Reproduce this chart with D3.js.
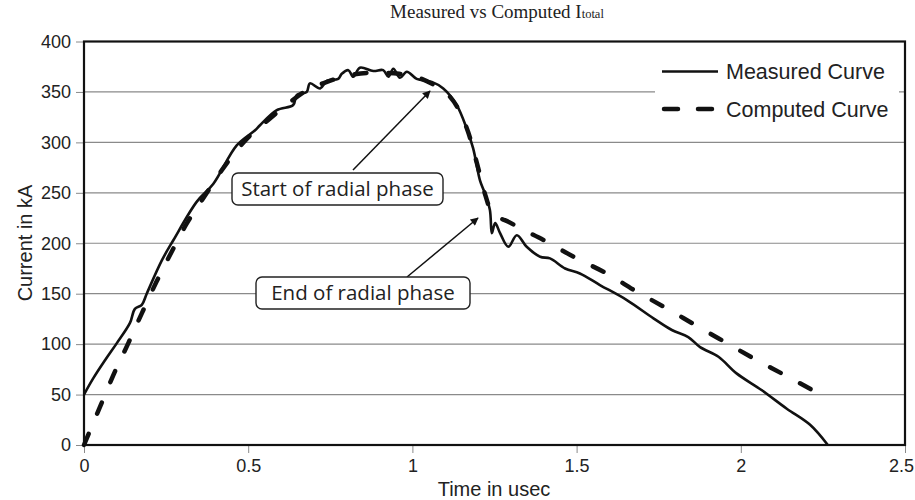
<!DOCTYPE html>
<html>
<head>
<meta charset="utf-8">
<script src="https://cdn.jsdelivr.net/npm/d3@7"></script>
<style>
  body { margin: 0; background: #fff; }
  svg { display: block; }
</style>
</head>
<body>
<div id="chart"></div>
<script>
// measured current (kA) vs time (usec)
var measuredT = [0, 0.028, 0.064, 0.100, 0.140, 0.155, 0.176, 0.191, 0.237, 0.272, 0.343, 0.394, 0.465, 0.521,
    0.536, 0.587, 0.637, 0.648, 0.678, 0.688, 0.719, 0.739, 0.774, 0.785, 0.805, 0.820, 0.840, 0.881, 0.911,
    0.927, 0.942, 0.962, 0.983, 1.013, 1.059, 1.094, 1.135, 1.165, 1.185, 1.206, 1.220, 1.236, 1.242, 1.252,
    1.267, 1.292, 1.318, 1.348, 1.389, 1.419, 1.465, 1.510, 1.571, 1.653, 1.734, 1.790, 1.840, 1.876, 1.932,
    1.987, 2.063, 2.140, 2.211, 2.265];
var measuredI = [50, 66, 84, 101, 121, 135, 139, 150, 183, 203, 241, 259, 297, 312,
    317, 332, 337, 347, 350, 358.5, 353.5, 361, 363, 368, 371.6, 365, 374, 370.7, 371.6,
    365, 373, 364, 370, 363, 360, 353.5, 337, 314, 294, 262, 250, 233, 210, 220,
    210, 196.5, 208, 196.5, 186.6, 185, 175, 170, 158.6, 143.7, 125.6, 114, 107, 97, 87.5,
    71, 54.5, 36, 20, 0];

// computed current
var computedT = [0, 0.049, 0.089, 0.135, 0.176, 0.221, 0.267, 0.313, 0.363, 0.434, 0.500, 0.560, 0.620,
    0.680, 0.740, 0.800, 0.880, 0.960, 1.020, 1.060, 1.100, 1.140, 1.170, 1.200, 1.220, 1.240, 1.300,
    1.409, 1.500, 1.592, 1.683, 1.774, 1.861, 1.952, 2.038, 2.130, 2.265];
var computedI = [0, 38, 69, 101, 130.5, 162, 191.6, 219.7, 244.5, 279, 305, 322, 338,
    352, 360, 366, 369, 368, 364, 358, 350, 333, 310, 275, 250, 232, 220,
    201.5, 185, 170, 152, 135.5, 119, 102, 86, 70, 46];

var xTicks = [0, 0.5, 1, 1.5, 2, 2.5];
var yTicks = [0, 50, 100, 150, 200, 250, 300, 350, 400];
var seriesNames = ["Measured Curve", "Computed Curve"];

var width = 915, height = 500;
var svg = d3.select("#chart").append("svg").attr("width", width).attr("height", height);

var x = d3.scaleLinear().domain([0, 2.5]).range([84, 905]);
var y = d3.scaleLinear().domain([0, 400]).range([445, 41.5]);

var defs = svg.append("defs");
defs.append("marker").attr("id", "arrow")
    .attr("viewBox", "0 0 10 10").attr("refX", 9).attr("refY", 5)
    .attr("markerWidth", 10).attr("markerHeight", 8).attr("markerUnits", "userSpaceOnUse")
    .attr("orient", "auto")
    .append("path").attr("d", "M0,0 L10,5 L0,10 z").attr("fill", "#111");

// gridlines
svg.append("g").selectAll("line").data(yTicks.slice(1, -1)).enter().append("line")
    .attr("x1", x(0)).attr("x2", x(2.5))
    .attr("y1", function (d) { return y(d); }).attr("y2", function (d) { return y(d); })
    .attr("stroke", "#8a8a8a").attr("stroke-width", 1.2);

// axes (ticks + labels only, border drawn below)
var yAxis = svg.append("g").attr("transform", "translate(" + x(0) + ",0)")
    .call(d3.axisLeft(y).tickValues(yTicks).tickSize(8).tickPadding(5).tickFormat(d3.format("d")));
var xAxis = svg.append("g").attr("transform", "translate(0," + y(0) + ")")
    .call(d3.axisBottom(x).tickValues(xTicks).tickSize(8).tickPadding(6).tickFormat(function (d) { return String(d); }));
[yAxis, xAxis].forEach(function (a) {
    a.select(".domain").remove();
    a.selectAll(".tick line").attr("stroke", "#8a8a8a");
    a.selectAll(".tick text").attr("fill", "#222")
        .style("font-family", "'Liberation Sans', Arial, sans-serif").style("font-size", "18px");
});
// last x label sits on the window edge, nudge it in so it is not clipped
xAxis.selectAll(".tick text").filter(function (d) { return d === 2.5; }).attr("dx", -4);

// legend background hides the gridline under it
svg.append("rect").attr("x", 655).attr("y", 50).attr("width", 244).attr("height", 78).attr("fill", "#fff");

// curves
var line = d3.line().x(function (d) { return x(d[0]); }).y(function (d) { return y(d[1]); });
var measured = measuredT.map(function (t, i) { return [t, measuredI[i]]; });
var computed = computedT.map(function (t, i) { return [t, computedI[i]]; });

svg.append("path").datum(computed).attr("d", line.curve(d3.curveMonotoneX))
    .attr("fill", "none").attr("stroke", "#111").attr("stroke-width", 4.5)
    .attr("stroke-dasharray", "12,22").attr("stroke-linecap", "round");
svg.append("path").datum(measured).attr("d", line.curve(d3.curveCatmullRom.alpha(0.5)))
    .attr("fill", "none").attr("stroke", "#111").attr("stroke-width", 2.6)
    .attr("stroke-linejoin", "round");

// plot border
svg.append("rect").attr("x", x(0)).attr("y", y(400))
    .attr("width", x(2.5) - x(0)).attr("height", y(0) - y(400))
    .attr("fill", "none").attr("stroke", "#111").attr("stroke-width", 2.2);

// legend
var legend = svg.append("g").style("font-family", "'Liberation Sans', Arial, sans-serif").style("font-size", "21.5px");
legend.append("line").attr("x1", 662).attr("x2", 718).attr("y1", 71.5).attr("y2", 71.5)
    .attr("stroke", "#111").attr("stroke-width", 2.6);
legend.append("line").attr("x1", 664).attr("x2", 715).attr("y1", 109).attr("y2", 109)
    .attr("stroke", "#111").attr("stroke-width", 4.5).attr("stroke-dasharray", "14,20").attr("stroke-linecap", "round");
legend.append("text").attr("x", 726).attr("y", 79).attr("fill", "#222").text(seriesNames[0]);
legend.append("text").attr("x", 726).attr("y", 117).attr("fill", "#222").text(seriesNames[1]);

// annotations
function note(label, bx, by, bw, bh, from, to) {
    svg.append("line").attr("x1", from[0]).attr("y1", from[1]).attr("x2", to[0]).attr("y2", to[1])
        .attr("stroke", "#111").attr("stroke-width", 1.5).attr("marker-end", "url(#arrow)");
    svg.append("rect").attr("x", bx).attr("y", by).attr("width", bw).attr("height", bh)
        .attr("rx", 6).attr("ry", 6).attr("fill", "#fff").attr("stroke", "#222").attr("stroke-width", 1.4);
    svg.append("text").attr("x", bx + bw / 2).attr("y", by + bh / 2 + 7).attr("text-anchor", "middle")
        .attr("fill", "#222").style("font-family", "'Open Sans', sans-serif").style("font-size", "20.5px")
        .text(label);
}
note("Start of radial phase", 232, 173, 211, 32, [353, 170], [430, 91]);
note("End of radial phase", 256, 277, 214, 32, [407, 277], [478, 218]);

// title and axis titles
var title = svg.append("text").attr("x", 497).attr("y", 18).attr("text-anchor", "middle")
    .attr("fill", "#222").style("font-family", "'Liberation Serif', 'Times New Roman', serif").style("font-size", "19px");
title.append("tspan").text("Measured vs Computed I");
title.append("tspan").style("font-size", "12.5px").text("total");

svg.append("text").attr("x", 494).attr("y", 496).attr("text-anchor", "middle").attr("fill", "#222")
    .style("font-family", "'Liberation Sans', Arial, sans-serif").style("font-size", "20px").text("Time in usec");
svg.append("text").attr("transform", "translate(32,243) rotate(-90)").attr("text-anchor", "middle").attr("fill", "#222")
    .style("font-family", "'Liberation Sans', Arial, sans-serif").style("font-size", "20px").text("Current in kA");
</script>
</body>
</html>
